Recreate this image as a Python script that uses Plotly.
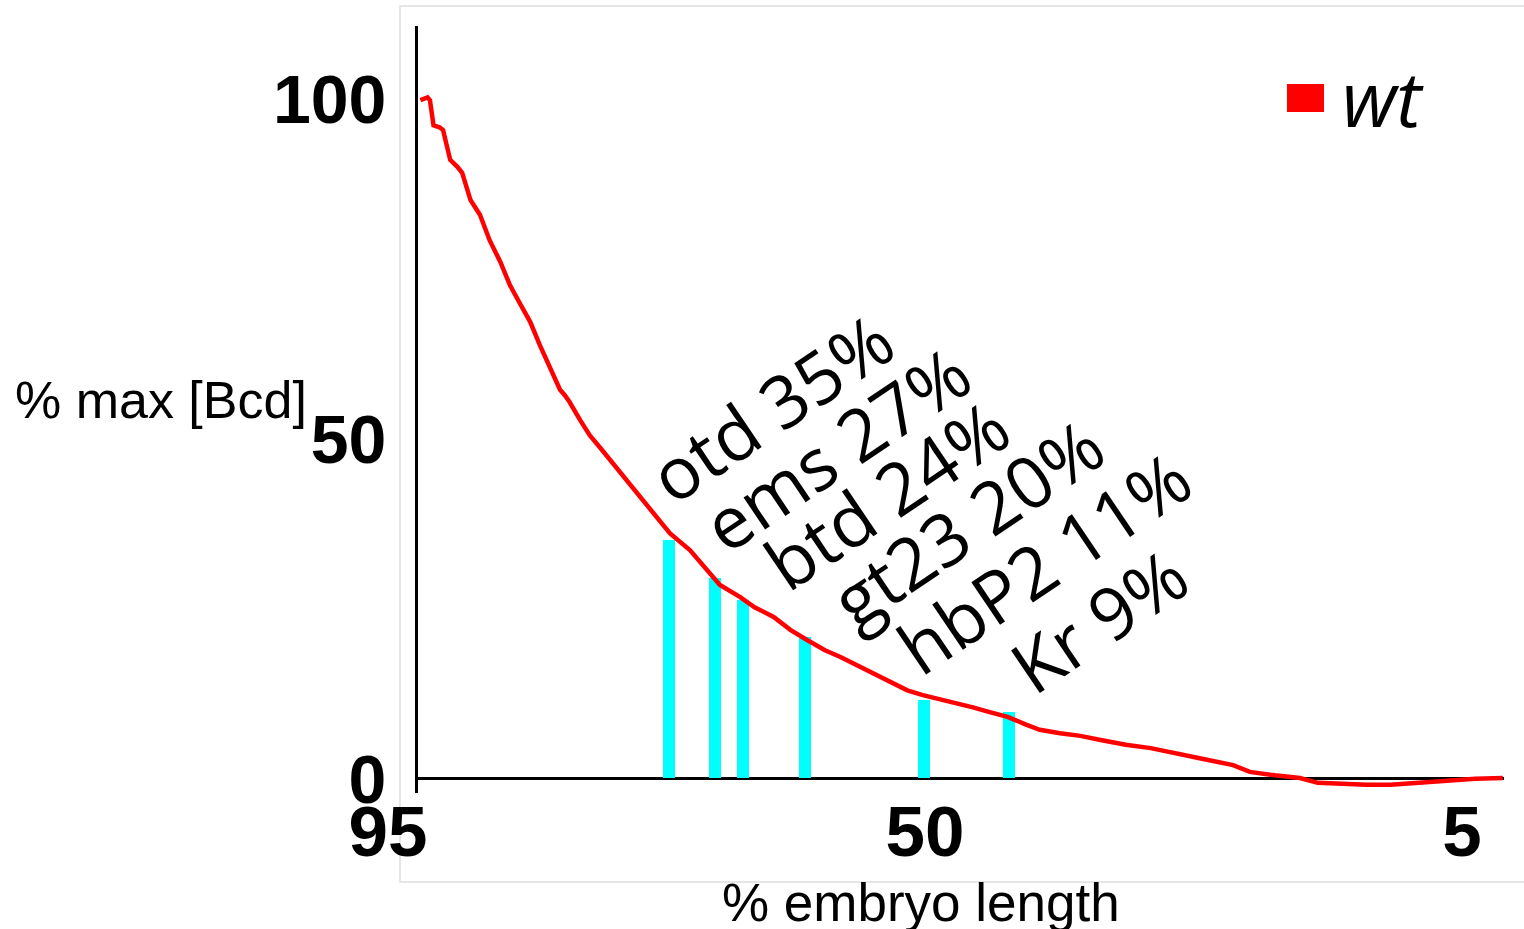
import plotly.graph_objects as go

# ---------------- data ----------------
embryo_pos = [94.8, 94.2, 94.0, 93.7, 93.2, 92.9, 92.3, 91.7, 91.3, 90.6, 89.8, 89.0,
              88.1, 87.3, 86.4, 85.6, 84.8, 83.9, 83.1, 82.7, 82.3, 81.4, 80.6, 79.7,
              78.9, 78.1, 77.2, 76.4, 75.6, 74.7, 73.9, 72.2, 70.8, 69.7, 68.0, 66.8,
              65.2, 63.8, 62.4, 60.9, 59.6, 58.2, 56.9, 55.4, 54.0, 52.7, 51.2, 49.8,
              48.5, 47.1, 45.6, 44.1, 42.9, 41.2, 39.5, 37.8, 35.7, 33.6, 31.5, 29.5,
              26.7, 25.3, 23.2, 21.1, 19.6, 17.7, 15.5, 13.5, 11.3, 8.5, 6.4, 4.1]
bcd_pct = [99.7, 100.1, 99.7, 96.0, 95.7, 95.3, 90.9, 89.9, 89.0, 85.0, 82.8, 79.1,
           75.9, 72.5, 69.6, 67.1, 63.7, 60.4, 57.1, 56.3, 55.3, 52.6, 50.4, 48.5,
           46.8, 45.0, 43.1, 41.3, 39.7, 37.9, 36.0, 33.5, 30.6, 28.4, 26.6, 25.1,
           23.7, 21.8, 20.3, 18.8, 17.8, 16.6, 15.4, 14.1, 12.9, 12.2, 11.6, 11.0,
           10.4, 9.7, 9.0, 7.9, 7.1, 6.6, 6.2, 5.6, 4.9, 4.4, 3.7, 2.9,
           1.9, 0.9, 0.4, 0.0, -0.7, -0.9, -1.0, -1.0, -0.7, -0.3, -0.1, 0.0]

gene_names = ["otd", "ems", "btd", "gt23", "hbP2", "Kr"]
gene_thresholds = ["35%", "27%", "24%", "20%", "11%", "9%"]
gene_pos = [74.0, 70.1, 67.8, 62.6, 52.6, 45.5]
gene_level = [35.0, 29.4, 26.2, 20.7, 11.5, 9.7]

x_tick_vals = [95, 50, 5]
y_tick_vals = [0, 50, 100]
series_name = "wt"

# ---------------- layout geometry ----------------
W, H = 1524, 929
L, R, T, B = 418, 20, 26, 136
PW, PH = W - L - R, H - T - B


def px(xp):
    return (xp - L) / PW


def py(yp):
    return (H - B - yp) / PH


fig = go.Figure()

fig.add_trace(go.Bar(
    x=gene_pos, y=gene_level, width=1.0,
    marker=dict(color="#00FFFF", line=dict(width=0)),
    showlegend=False, hoverinfo="skip",
))

fig.add_trace(go.Scatter(
    x=embryo_pos, y=bcd_pct, mode="lines", name=series_name,
    line=dict(color="#FF0000", width=4.5),
    showlegend=False,
))

# rotated gene labels
label_centers = [(771, 407), (836, 448), (886, 494), (967, 522), (1043, 562), (1098, 620)]
for name, thr, (cx, cy) in zip(gene_names, gene_thresholds, label_centers):
    fig.add_annotation(
        x=px(cx), y=py(cy), xref="paper", yref="paper",
        text=f"{name} {thr}", showarrow=False, textangle=-34,
        xanchor="center", yanchor="middle",
        font=dict(family="Open Sans", size=72, color="black"),
    )

# axis titles
fig.add_annotation(
    x=px(161), y=py(400), xref="paper", yref="paper",
    text="% max [Bcd]", showarrow=False, xanchor="center", yanchor="middle",
    font=dict(family="Liberation Sans, Arial", size=52, color="black"),
)
fig.add_annotation(
    x=px(921), y=py(903), xref="paper", yref="paper",
    text="% embryo length", showarrow=False, xanchor="center", yanchor="middle",
    font=dict(family="Liberation Sans, Arial", size=53, color="black"),
)

# legend (wt)
fig.add_shape(type="rect", xref="paper", yref="paper",
              x0=px(1287), x1=px(1324), y0=py(112), y1=py(84),
              fillcolor="#FF0000", line=dict(width=0))
fig.add_annotation(
    x=px(1340), y=py(97), xref="paper", yref="paper",
    text=series_name, showarrow=False, xanchor="left", yanchor="middle",
    font=dict(family="Open Sans", size=76, color="black", style="italic"),
)

# light frame
fig.add_shape(type="rect", xref="paper", yref="paper",
              x0=px(400), x1=px(1540), y0=py(882), y1=py(6),
              line=dict(color="#E6E6E6", width=2), fillcolor="rgba(0,0,0,0)",
              layer="below")

fig.update_layout(
    width=W, height=H, autosize=False,
    margin=dict(l=L, r=R, t=T, b=B, pad=0),
    plot_bgcolor="white", paper_bgcolor="white",
    bargap=0,
    xaxis=dict(
        range=[95, 4], tickvals=x_tick_vals, ticktext=[str(v) for v in x_tick_vals],
        showgrid=False, zeroline=False, showline=False, ticks="",
        tickfont=dict(family="Liberation Sans Narrow, Liberation Sans, Arial", size=71,
                      color="black", weight="bold"),
        ticklabelshift=30, ticklabelstandoff=-9,
    ),
    yaxis=dict(
        range=[-2.2, 110.6], tickvals=y_tick_vals, ticktext=[str(v) for v in y_tick_vals],
        showgrid=False, zeroline=True, zerolinecolor="black", zerolinewidth=3,
        showline=True, linecolor="black", linewidth=3, ticks="",
        tickfont=dict(family="Liberation Sans, Arial", size=68, color="black", weight="bold"),
        ticklabelstandoff=15, ticklabelshift=1,
    ),
)

fig.write_html("out.html", config={"displayModeBar": False},
               post_script="document.body.style.margin='0';")
